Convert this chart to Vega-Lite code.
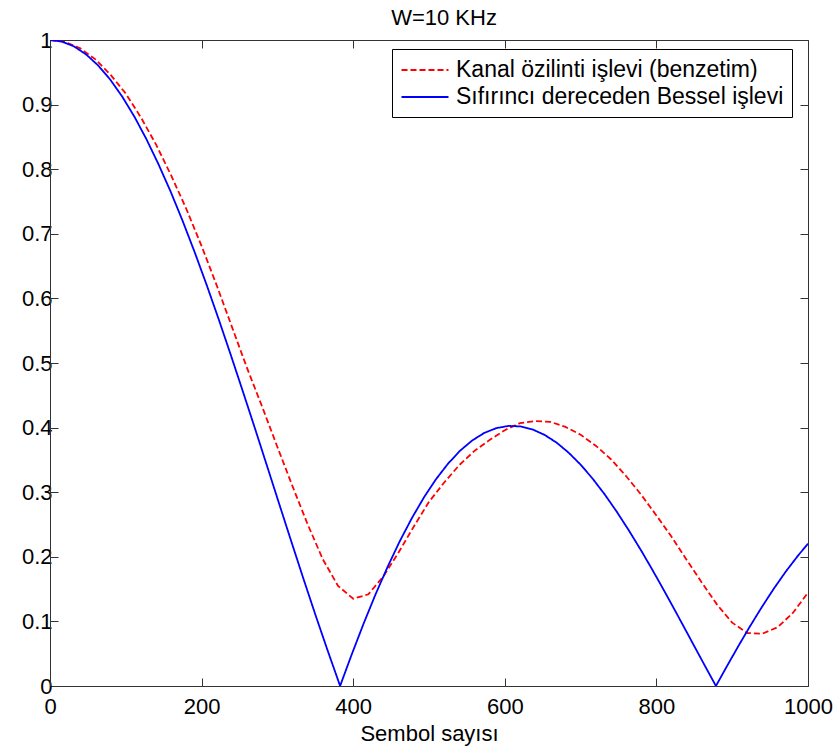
{
  "$schema": "https://vega.github.io/schema/vega-lite/v6.json",
  "width": 758,
  "height": 646,
  "autosize": "none",
  "padding": {"left": 50, "top": 40, "right": 29, "bottom": 65},
  "background": "white",
  "config": {
    "font": "Liberation Sans",
    "view": {"stroke": null},
    "axis": {"grid": false, "domainColor": "#333", "tickColor": "#333", "labelColor": "#000", "titleColor": "#000", "labelFont": "Liberation Sans", "titleFont": "Liberation Sans", "labelFontSize": 22, "titleFontSize": 22, "titleFontWeight": "normal", "tickSize": -8, "domainWidth": 1, "tickWidth": 1}
  },
  "title": {"text": "W=10 KHz", "fontSize": 22, "font": "Liberation Sans", "fontWeight": "normal", "color": "#000", "anchor": "middle", "frame": "group", "dx": 15, "offset": 15, "baseline": "bottom", "dy": 38},
  "datasets": {
    "curves": [
      {"k": 0, "v": 1.0, "s": "Kanal özilinti işlevi (benzetim)"},
      {"k": 20, "v": 0.997, "s": "Kanal özilinti işlevi (benzetim)"},
      {"k": 40, "v": 0.987, "s": "Kanal özilinti işlevi (benzetim)"},
      {"k": 60, "v": 0.970, "s": "Kanal özilinti işlevi (benzetim)"},
      {"k": 80, "v": 0.946, "s": "Kanal özilinti işlevi (benzetim)"},
      {"k": 100, "v": 0.917, "s": "Kanal özilinti işlevi (benzetim)"},
      {"k": 120, "v": 0.880, "s": "Kanal özilinti işlevi (benzetim)"},
      {"k": 140, "v": 0.838, "s": "Kanal özilinti işlevi (benzetim)"},
      {"k": 160, "v": 0.790, "s": "Kanal özilinti işlevi (benzetim)"},
      {"k": 180, "v": 0.738, "s": "Kanal özilinti işlevi (benzetim)"},
      {"k": 200, "v": 0.681, "s": "Kanal özilinti işlevi (benzetim)"},
      {"k": 220, "v": 0.620, "s": "Kanal özilinti işlevi (benzetim)"},
      {"k": 240, "v": 0.556, "s": "Kanal özilinti işlevi (benzetim)"},
      {"k": 260, "v": 0.492, "s": "Kanal özilinti işlevi (benzetim)"},
      {"k": 280, "v": 0.432, "s": "Kanal özilinti işlevi (benzetim)"},
      {"k": 300, "v": 0.370, "s": "Kanal özilinti işlevi (benzetim)"},
      {"k": 320, "v": 0.309, "s": "Kanal özilinti işlevi (benzetim)"},
      {"k": 340, "v": 0.250, "s": "Kanal özilinti işlevi (benzetim)"},
      {"k": 360, "v": 0.196, "s": "Kanal özilinti işlevi (benzetim)"},
      {"k": 380, "v": 0.155, "s": "Kanal özilinti işlevi (benzetim)"},
      {"k": 400, "v": 0.135, "s": "Kanal özilinti işlevi (benzetim)"},
      {"k": 420, "v": 0.142, "s": "Kanal özilinti işlevi (benzetim)"},
      {"k": 440, "v": 0.170, "s": "Kanal özilinti işlevi (benzetim)"},
      {"k": 460, "v": 0.207, "s": "Kanal özilinti işlevi (benzetim)"},
      {"k": 480, "v": 0.247, "s": "Kanal özilinti işlevi (benzetim)"},
      {"k": 500, "v": 0.285, "s": "Kanal özilinti işlevi (benzetim)"},
      {"k": 520, "v": 0.315, "s": "Kanal özilinti işlevi (benzetim)"},
      {"k": 540, "v": 0.342, "s": "Kanal özilinti işlevi (benzetim)"},
      {"k": 560, "v": 0.364, "s": "Kanal özilinti işlevi (benzetim)"},
      {"k": 580, "v": 0.381, "s": "Kanal özilinti işlevi (benzetim)"},
      {"k": 600, "v": 0.396, "s": "Kanal özilinti işlevi (benzetim)"},
      {"k": 620, "v": 0.407, "s": "Kanal özilinti işlevi (benzetim)"},
      {"k": 640, "v": 0.410, "s": "Kanal özilinti işlevi (benzetim)"},
      {"k": 660, "v": 0.409, "s": "Kanal özilinti işlevi (benzetim)"},
      {"k": 680, "v": 0.401, "s": "Kanal özilinti işlevi (benzetim)"},
      {"k": 700, "v": 0.389, "s": "Kanal özilinti işlevi (benzetim)"},
      {"k": 720, "v": 0.372, "s": "Kanal özilinti işlevi (benzetim)"},
      {"k": 740, "v": 0.351, "s": "Kanal özilinti işlevi (benzetim)"},
      {"k": 760, "v": 0.325, "s": "Kanal özilinti işlevi (benzetim)"},
      {"k": 780, "v": 0.296, "s": "Kanal özilinti işlevi (benzetim)"},
      {"k": 800, "v": 0.264, "s": "Kanal özilinti işlevi (benzetim)"},
      {"k": 820, "v": 0.231, "s": "Kanal özilinti işlevi (benzetim)"},
      {"k": 840, "v": 0.195, "s": "Kanal özilinti işlevi (benzetim)"},
      {"k": 860, "v": 0.160, "s": "Kanal özilinti işlevi (benzetim)"},
      {"k": 880, "v": 0.126, "s": "Kanal özilinti işlevi (benzetim)"},
      {"k": 900, "v": 0.098, "s": "Kanal özilinti işlevi (benzetim)"},
      {"k": 920, "v": 0.082, "s": "Kanal özilinti işlevi (benzetim)"},
      {"k": 940, "v": 0.081, "s": "Kanal özilinti işlevi (benzetim)"},
      {"k": 960, "v": 0.091, "s": "Kanal özilinti işlevi (benzetim)"},
      {"k": 980, "v": 0.113, "s": "Kanal özilinti işlevi (benzetim)"},
      {"k": 1000, "v": 0.1445, "s": "Kanal özilinti işlevi (benzetim)"},
      {"k": 0, "v": 1.0, "s": "Sıfırıncı dereceden Bessel işlevi"},
      {"k": 15.9, "v": 0.9975, "s": "Sıfırıncı dereceden Bessel işlevi"},
      {"k": 31.8, "v": 0.9900, "s": "Sıfırıncı dereceden Bessel işlevi"},
      {"k": 47.7, "v": 0.9776, "s": "Sıfırıncı dereceden Bessel işlevi"},
      {"k": 63.7, "v": 0.9604, "s": "Sıfırıncı dereceden Bessel işlevi"},
      {"k": 79.6, "v": 0.9385, "s": "Sıfırıncı dereceden Bessel işlevi"},
      {"k": 95.5, "v": 0.9120, "s": "Sıfırıncı dereceden Bessel işlevi"},
      {"k": 111.4, "v": 0.8812, "s": "Sıfırıncı dereceden Bessel işlevi"},
      {"k": 127.3, "v": 0.8463, "s": "Sıfırıncı dereceden Bessel işlevi"},
      {"k": 143.2, "v": 0.8075, "s": "Sıfırıncı dereceden Bessel işlevi"},
      {"k": 159.2, "v": 0.7652, "s": "Sıfırıncı dereceden Bessel işlevi"},
      {"k": 175.1, "v": 0.7196, "s": "Sıfırıncı dereceden Bessel işlevi"},
      {"k": 191.0, "v": 0.6711, "s": "Sıfırıncı dereceden Bessel işlevi"},
      {"k": 206.9, "v": 0.6201, "s": "Sıfırıncı dereceden Bessel işlevi"},
      {"k": 222.8, "v": 0.5669, "s": "Sıfırıncı dereceden Bessel işlevi"},
      {"k": 238.7, "v": 0.5118, "s": "Sıfırıncı dereceden Bessel işlevi"},
      {"k": 254.6, "v": 0.4554, "s": "Sıfırıncı dereceden Bessel işlevi"},
      {"k": 270.6, "v": 0.3980, "s": "Sıfırıncı dereceden Bessel işlevi"},
      {"k": 286.5, "v": 0.3400, "s": "Sıfırıncı dereceden Bessel işlevi"},
      {"k": 302.4, "v": 0.2818, "s": "Sıfırıncı dereceden Bessel işlevi"},
      {"k": 318.3, "v": 0.2239, "s": "Sıfırıncı dereceden Bessel işlevi"},
      {"k": 334.2, "v": 0.1666, "s": "Sıfırıncı dereceden Bessel işlevi"},
      {"k": 350.1, "v": 0.1104, "s": "Sıfırıncı dereceden Bessel işlevi"},
      {"k": 366.1, "v": 0.0555, "s": "Sıfırıncı dereceden Bessel işlevi"},
      {"k": 382.0, "v": 0.0025, "s": "Sıfırıncı dereceden Bessel işlevi"},
      {"k": 382.7, "v": 0.0, "s": "Sıfırıncı dereceden Bessel işlevi"},
      {"k": 397.9, "v": 0.0484, "s": "Sıfırıncı dereceden Bessel işlevi"},
      {"k": 413.8, "v": 0.0968, "s": "Sıfırıncı dereceden Bessel işlevi"},
      {"k": 429.7, "v": 0.1425, "s": "Sıfırıncı dereceden Bessel işlevi"},
      {"k": 445.6, "v": 0.1850, "s": "Sıfırıncı dereceden Bessel işlevi"},
      {"k": 461.5, "v": 0.2243, "s": "Sıfırıncı dereceden Bessel işlevi"},
      {"k": 477.5, "v": 0.2601, "s": "Sıfırıncı dereceden Bessel işlevi"},
      {"k": 493.4, "v": 0.2921, "s": "Sıfırıncı dereceden Bessel işlevi"},
      {"k": 509.3, "v": 0.3202, "s": "Sıfırıncı dereceden Bessel işlevi"},
      {"k": 525.2, "v": 0.3443, "s": "Sıfırıncı dereceden Bessel işlevi"},
      {"k": 541.1, "v": 0.3643, "s": "Sıfırıncı dereceden Bessel işlevi"},
      {"k": 557.0, "v": 0.3801, "s": "Sıfırıncı dereceden Bessel işlevi"},
      {"k": 573.0, "v": 0.3918, "s": "Sıfırıncı dereceden Bessel işlevi"},
      {"k": 588.9, "v": 0.3992, "s": "Sıfırıncı dereceden Bessel işlevi"},
      {"k": 604.8, "v": 0.4026, "s": "Sıfırıncı dereceden Bessel işlevi"},
      {"k": 620.7, "v": 0.4018, "s": "Sıfırıncı dereceden Bessel işlevi"},
      {"k": 636.6, "v": 0.3972, "s": "Sıfırıncı dereceden Bessel işlevi"},
      {"k": 652.5, "v": 0.3887, "s": "Sıfırıncı dereceden Bessel işlevi"},
      {"k": 668.5, "v": 0.3766, "s": "Sıfırıncı dereceden Bessel işlevi"},
      {"k": 684.4, "v": 0.3610, "s": "Sıfırıncı dereceden Bessel işlevi"},
      {"k": 700.3, "v": 0.3423, "s": "Sıfırıncı dereceden Bessel işlevi"},
      {"k": 716.2, "v": 0.3205, "s": "Sıfırıncı dereceden Bessel işlevi"},
      {"k": 732.1, "v": 0.2961, "s": "Sıfırıncı dereceden Bessel işlevi"},
      {"k": 748.0, "v": 0.2693, "s": "Sıfırıncı dereceden Bessel işlevi"},
      {"k": 763.9, "v": 0.2404, "s": "Sıfırıncı dereceden Bessel işlevi"},
      {"k": 779.9, "v": 0.2097, "s": "Sıfırıncı dereceden Bessel işlevi"},
      {"k": 795.8, "v": 0.1776, "s": "Sıfırıncı dereceden Bessel işlevi"},
      {"k": 811.7, "v": 0.1443, "s": "Sıfırıncı dereceden Bessel işlevi"},
      {"k": 827.6, "v": 0.1103, "s": "Sıfırıncı dereceden Bessel işlevi"},
      {"k": 843.5, "v": 0.0758, "s": "Sıfırıncı dereceden Bessel işlevi"},
      {"k": 859.4, "v": 0.0412, "s": "Sıfırıncı dereceden Bessel işlevi"},
      {"k": 875.4, "v": 0.0068, "s": "Sıfırıncı dereceden Bessel işlevi"},
      {"k": 878.5, "v": 0.0, "s": "Sıfırıncı dereceden Bessel işlevi"},
      {"k": 891.3, "v": 0.0270, "s": "Sıfırıncı dereceden Bessel işlevi"},
      {"k": 907.2, "v": 0.0599, "s": "Sıfırıncı dereceden Bessel işlevi"},
      {"k": 923.1, "v": 0.0917, "s": "Sıfırıncı dereceden Bessel işlevi"},
      {"k": 939.0, "v": 0.1220, "s": "Sıfırıncı dereceden Bessel işlevi"},
      {"k": 954.9, "v": 0.1507, "s": "Sıfırıncı dereceden Bessel işlevi"},
      {"k": 970.8, "v": 0.1773, "s": "Sıfırıncı dereceden Bessel işlevi"},
      {"k": 986.8, "v": 0.2018, "s": "Sıfırıncı dereceden Bessel işlevi"},
      {"k": 1000, "v": 0.2203, "s": "Sıfırıncı dereceden Bessel işlevi"}
    ]
  },
  "data": {"name": "curves"},
  "layer": [
    {
      "mark": {"type": "line", "strokeWidth": 1.8, "clip": true},
      "encoding": {
        "x": {"field": "k", "type": "quantitative", "scale": {"domain": [0, 1000], "nice": false, "zero": false},
              "axis": {"orient": "bottom", "values": [0, 200, 400, 600, 800, 1000], "format": "d", "title": "Sembol sayısı", "labelPadding": 18, "titlePadding": 6, "labelFlush": false}},
        "y": {"field": "v", "type": "quantitative", "scale": {"domain": [0, 1], "nice": false},
              "axis": {"orient": "left", "values": [0, 0.1, 0.2, 0.3, 0.4, 0.5, 0.6, 0.7, 0.8, 0.9, 1], "format": "~g", "title": null, "labelPadding": 6, "labelFlush": false}},
        "color": {"field": "s", "type": "nominal",
                  "scale": {"domain": ["Kanal özilinti işlevi (benzetim)", "Sıfırıncı dereceden Bessel işlevi"], "range": ["#FF0000", "#0000FF"]},
                  "legend": {"orient": "none", "legendX": 342, "legendY": 9, "title": null, "fillColor": "white", "strokeColor": "#000", "padding": 8, "rowPadding": 2, "labelFontSize": 23, "labelFont": "Liberation Sans", "labelColor": "#000", "symbolType": "M-2,0H2", "symbolSize": 552, "symbolOffset": 12, "symbolStrokeWidth": 1.8, "labelOffset": 18, "labelLimit": 500}},
        "strokeDash": {"field": "s", "type": "nominal",
                  "scale": {"domain": ["Kanal özilinti işlevi (benzetim)", "Sıfırıncı dereceden Bessel işlevi"], "range": [[6, 3], [1, 0]]},
                  "legend": {"orient": "none", "legendX": 342, "legendY": 9, "title": null, "fillColor": "white", "strokeColor": "#000", "padding": 8, "rowPadding": 2, "labelFontSize": 23, "labelFont": "Liberation Sans", "labelColor": "#000", "symbolType": "M-2,0H2", "symbolSize": 552, "symbolOffset": 12, "symbolStrokeWidth": 1.8, "labelOffset": 18, "labelLimit": 500}}
      }
    },
    {
      "mark": {"type": "point", "opacity": 0},
      "encoding": {
        "x": {"field": "k", "type": "quantitative", "axis": {"orient": "top", "values": [0, 200, 400, 600, 800, 1000], "labels": false, "title": null}},
        "y": {"field": "v", "type": "quantitative", "axis": {"orient": "right", "values": [0, 0.1, 0.2, 0.3, 0.4, 0.5, 0.6, 0.7, 0.8, 0.9, 1], "labels": false, "title": null}}
      }
    }
  ],
  "resolve": {"axis": {"x": "independent", "y": "independent"}}
}
